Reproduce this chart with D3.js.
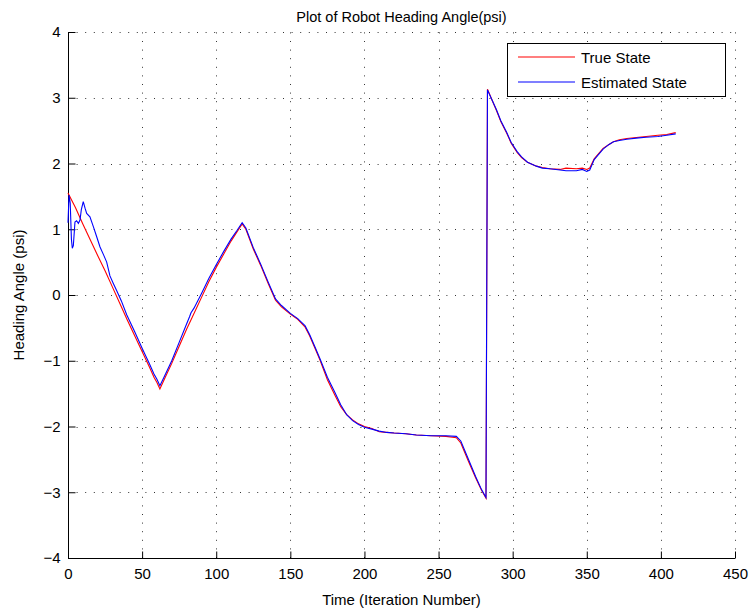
<!DOCTYPE html>
<html>
<head>
<meta charset="utf-8">
<script src="https://cdn.jsdelivr.net/npm/d3@7"></script>
<style>
  html, body { margin: 0; padding: 0; background: #fff; }
  svg { display: block; font-family: "Liberation Sans", Arial, Helvetica, sans-serif; }
</style>
</head>
<body>
<script>
// ---------- data ----------
const title = "Plot of Robot Heading Angle(psi)";
const xLabel = "Time (Iteration Number)";
const yLabel = "Heading Angle (psi)";
const xTicks = [0, 50, 100, 150, 200, 250, 300, 350, 400, 450];
const yTicks = [-4, -3, -2, -1, 0, 1, 2, 3, 4];
const seriesNames = ["True State", "Estimated State"];

const trueX = [0,5,10,15,20,25,30,35,40,45,50,55,58,60,62,65,70,75,80,85,90,95,100,105,110,114,117.5,120,125,130,135,140,144,150,155,160,163,167,170,175,180,184,188,192,196,200,205,210,215,220,228,235,245,255,262,265,270,275,279,282,283,286,289,292,296,299,303,306,310,316,320,325,332,336,343,347,350,352,355,358,361,365,368,372,377,385,390,398,404,410];
const trueY = [1.55,1.33,1.08,0.84,0.60,0.37,0.12,-0.13,-0.38,-0.62,-0.86,-1.10,-1.25,-1.33,-1.43,-1.28,-1.04,-0.78,-0.52,-0.28,-0.04,0.20,0.42,0.62,0.82,0.96,1.08,1.00,0.70,0.45,0.18,-0.08,-0.18,-0.29,-0.37,-0.49,-0.62,-0.83,-0.99,-1.29,-1.52,-1.70,-1.82,-1.90,-1.96,-2.00,-2.03,-2.08,-2.09,-2.10,-2.11,-2.13,-2.14,-2.15,-2.17,-2.25,-2.52,-2.78,-2.97,-3.09,3.13,2.97,2.81,2.64,2.46,2.31,2.17,2.09,2.02,1.96,1.94,1.92,1.91,1.93,1.92,1.93,1.91,1.93,2.07,2.15,2.23,2.29,2.33,2.36,2.38,2.40,2.41,2.43,2.44,2.47];

const estX = [0,0.7,1.5,2.3,2.9,3.6,4.7,5.8,7,8.1,9,10.3,11.5,12.6,14.8,17.1,19.3,21.6,24,26.1,28.3,30.5,32.8,36,39.6,45,50,55,58,60,62,65,70,75,80,82,83,85,90,95,100,105,110,114,117.5,120,125,130,135,140,144,150,155,160,163,167,170,175,180,184,188,192,196,200,205,210,215,220,228,235,245,255,262,265,270,275,279,282,283,286,289,292,296,299,303,306,310,316,320,325,332,336,343,347,350,352,355,358,361,365,368,372,377,385,390,398,404,410];
const estY = [1.10,1.52,1.40,0.85,0.71,0.75,1.11,1.13,1.09,1.14,1.30,1.42,1.32,1.24,1.19,1.04,0.89,0.73,0.61,0.50,0.29,0.18,0.07,-0.09,-0.30,-0.56,-0.81,-1.05,-1.20,-1.28,-1.38,-1.24,-1.00,-0.72,-0.44,-0.33,-0.27,-0.20,0.02,0.25,0.46,0.66,0.85,0.98,1.10,1.02,0.72,0.47,0.20,-0.06,-0.16,-0.28,-0.36,-0.47,-0.60,-0.81,-0.97,-1.25,-1.48,-1.67,-1.82,-1.91,-1.97,-2.01,-2.04,-2.07,-2.09,-2.10,-2.11,-2.13,-2.14,-2.14,-2.15,-2.22,-2.49,-2.76,-2.96,-3.08,3.12,2.97,2.82,2.65,2.47,2.32,2.18,2.10,2.02,1.96,1.93,1.92,1.90,1.89,1.89,1.91,1.88,1.90,2.06,2.14,2.22,2.29,2.33,2.35,2.37,2.39,2.40,2.41,2.43,2.45];

// ---------- layout ----------
const W = 755, H = 614;
const L = 68, T = 32, R = 735, B = 558;

const svg = d3.select("body").append("svg").attr("width", W).attr("height", H);
svg.append("rect").attr("width", W).attr("height", H).attr("fill", "#fff");

const x = d3.scaleLinear().domain([0, 450]).range([L, R]);
const y = d3.scaleLinear().domain([-4, 4]).range([B, T]);

// grid
const grid = svg.append("g");
xTicks.forEach(t => {
  grid.append("line")
    .attr("x1", Math.round(x(t)) + 0.5).attr("x2", Math.round(x(t)) + 0.5)
    .attr("y1", B).attr("y2", T)
    .attr("stroke", "#000").attr("stroke-width", 1).attr("stroke-dasharray", "1,7.6")
    .attr("stroke-opacity", 0.8);
});
yTicks.forEach(t => {
  grid.append("line")
    .attr("x1", L).attr("x2", R)
    .attr("y1", Math.round(y(t)) + 0.5).attr("y2", Math.round(y(t)) + 0.5)
    .attr("stroke", "#000").attr("stroke-width", 1).attr("stroke-dasharray", "1,7.6")
    .attr("stroke-opacity", 0.8);
});

// axes
const xAxis = d3.axisBottom(x).tickValues(xTicks).tickSize(-7).tickPadding(10)
  .tickFormat(d => String(d));
const yAxis = d3.axisLeft(y).tickValues(yTicks).tickSize(-7).tickPadding(8)
  .tickFormat(d => d < 0 ? "\u2212" + Math.abs(d) : String(d));

const gx = svg.append("g").attr("transform", `translate(0,${Math.round(B)+0.5})`).call(xAxis);
const gy = svg.append("g").attr("transform", `translate(${Math.round(L)+0.5},0)`).call(yAxis);
[gx, gy].forEach(g => {
  g.select(".domain").attr("stroke", "#000").attr("stroke-width", 1);
  g.selectAll(".tick line").attr("stroke", "#000");
  g.selectAll(".tick text").attr("font-size", 15).attr("fill", "#000")
    .attr("font-family", "Liberation Sans, Arial, sans-serif");
});
gx.select(".domain").attr("d", `M${L},0H${R}`);
gy.select(".domain").attr("d", `M0,${B}V${T}`);

// lines
const lineGen = d3.line().x(d => x(d[0])).y(d => y(d[1]));
const trueData = trueX.map((v, i) => [v, trueY[i]]);
const estData = estX.map((v, i) => [v, estY[i]]);

svg.append("path").datum(trueData).attr("d", lineGen)
  .attr("fill", "none").attr("stroke", "#ff0000").attr("stroke-width", 1.1);
svg.append("path").datum(estData).attr("d", lineGen)
  .attr("fill", "none").attr("stroke", "#0000ff").attr("stroke-width", 1.1);

// title & labels
svg.append("text").attr("x", (L + R) / 2).attr("y", 22).attr("text-anchor", "middle")
  .attr("font-size", 14.5).attr("fill", "#000").text(title);
svg.append("text").attr("x", (L + R) / 2).attr("y", 605).attr("text-anchor", "middle")
  .attr("font-size", 15).attr("fill", "#000").text(xLabel);
svg.append("text").attr("transform", `translate(24,${(T + B) / 2}) rotate(-90)`)
  .attr("text-anchor", "middle").attr("font-size", 15).attr("fill", "#000").text(yLabel);

// legend
const lg = svg.append("g");
lg.append("rect").attr("x", 507.5).attr("y", 43.5).attr("width", 218).attr("height", 53)
  .attr("fill", "#fff").attr("stroke", "#000").attr("stroke-width", 1);
const legColors = ["#ff0000", "#0000ff"];
seriesNames.forEach((name, i) => {
  const ly = 57 + i * 25;
  lg.append("line").attr("x1", 518).attr("x2", 575).attr("y1", ly).attr("y2", ly)
    .attr("stroke", legColors[i]).attr("stroke-width", 1.1);
  lg.append("text").attr("x", 581).attr("y", ly + 5.5).attr("font-size", 15)
    .attr("fill", "#000").text(name);
});
</script>
</body>
</html>
